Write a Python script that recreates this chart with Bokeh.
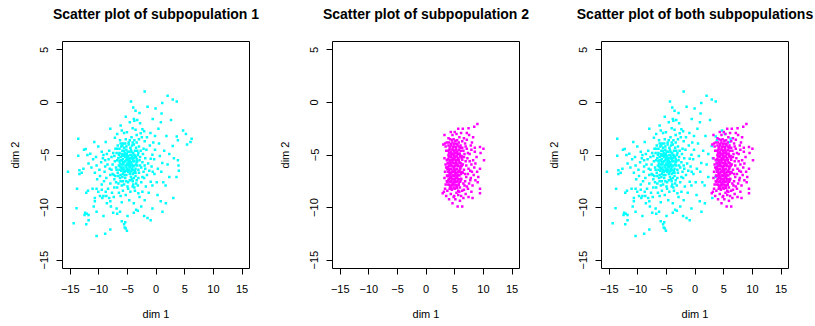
from bokeh.plotting import figure
from bokeh.layouts import row
from bokeh.models import Range1d, FixedTicker, LinearAxis
from bokeh.embed import file_html
from bokeh.resources import INLINE

# ---------------- data ----------------
titles = ["Scatter plot of subpopulation 1",
          "Scatter plot of subpopulation 2",
          "Scatter plot of both subpopulations"]
x_ticks = [-15, -10, -5, 0, 5, 10, 15]
y_ticks = [-15, -10, -5, 0, 5]

sub1_points = [
    (-2.0, 1.04), (2.0, 0.63), (2.9, 0.28), (3.6, 0.09), (-4.4, 0.09), (1.07, -0.06),
    (-4.0, -0.47), (-1.5, -0.41), (-0.1, -0.57), (0.95, -1.04), (-5.3, -1.35),
    (-3.9, -1.57), (-3.8, -1.73), (-4.6, -1.89), (-3.3, -1.67), (-0.6, -1.57),
    (-2.8, -1.98), (2.6, -1.67), (0.83, -1.89), (-6.2, -2.2), (-8.0, -2.5), (-6.0, -2.67),
    (-2.4, -2.55), (-2.1, -2.74), (-2.7, -2.92), (-4.1, -2.45), (-5.1, -2.83), (4.7, -2.67),
    (5.2, -2.99), (6.2, -3.46), (6.0, -3.77), (1.8, -3.2), (3.6, -3.24), (3.8, -3.6),
    (2.9, -4.15), (5.4, -4.0), (-13.6, -3.46), (-12.3, -4.43), (-12.6, -4.5), (-10.8, -3.77),
    (-10.1, -4.18), (-8.8, -3.77), (-7.2, -3.36), (-13.6, -5.06), (-11.5, -4.87),
    (-10.5, -5.19), (-9.5, -4.7), (-9.2, -5.0), (-8.9, -5.5), (-15.4, -6.6), (-13.4, -6.45),
    (-13.0, -6.7), (-13.4, -6.8), (-12.7, -6.3), (-11.8, -5.8), (-11.3, -6.2),
    (-10.4, -6.0), (-9.9, -6.4), (-10.7, -6.7), (-9.8, -7.0), (-13.8, -8.2), (-11.9, -8.4),
    (-12.2, -8.6), (-11.1, -8.2), (-10.4, -8.2), (-10.1, -8.5), (-9.5, -8.3), (-10.7, -9.1),
    (-10.7, -9.4), (-9.8, -8.9), (-9.4, -9.1), (-9.2, -8.9), (-8.7, -8.9), (-8.2, -9.1),
    (-8.0, -9.4), (-8.6, -9.6), (-7.4, -9.0), (-13.9, -10.06), (-12.4, -10.5), (-12.1, -10.6),
    (-12.5, -10.7), (-11.8, -10.7), (-11.8, -11.2), (-12.2, -11.6), (-14.4, -11.5),
    (-10.4, -10.4), (-9.2, -10.8), (-10.4, -12.7), (-8.9, -12.5), (-8.0, -12.1),
    (-6.9, -10.1), (-6.8, -10.6), (-7.5, -10.5), (-6.0, -11.3), (-5.4, -11.4), (-5.6, -11.6),
    (-5.3, -12.0), (-5.1, -12.2), (-5.5, -11.9), (-3.9, -9.6), (-3.2, -10.3), (-3.9, -10.5),
    (-3.5, -10.2), (-5.0, -10.8), (-2.1, -10.8), (-1.5, -11.0), (-0.95, -11.2),
    (-0.65, -10.1), (1.1, -10.4), (0.8, -9.4), (1.7, -9.6), (3.0, -9.1), (-2.0, -9.3),
    (-0.65, -4.97), (-0.95, -5.35), (-0.35, -5.4), (0.65, -5.1), (1.07, -5.75), (2.0, -5.9),
    (3.1, -5.3), (3.8, -5.5), (3.9, -6.0), (3.96, -6.5), (3.55, -7.1), (2.3, -7.1),
    (1.25, -7.6), (1.66, -7.9), (0.1, -7.6), (-0.95, -7.55), (-0.65, -7.9), (0.24, -8.8),
    (-1.8, -8.0), (-2.4, -8.5), (-3.1, -8.65),
    (-8.5, -5.9), (-8.1, -6.3), (-7.8, -5.2), (-7.6, -6.8), (-7.3, -7.3), (-7.0, -7.6),
    (-6.8, -8.1), (-6.5, -8.6), (-6.2, -8.9), (-5.8, -8.4), (-5.3, -8.8), (-4.9, -8.2),
    (-4.5, -8.5), (-4.1, -8.0), (-3.7, -8.4), (-3.2, -7.9), (-2.6, -7.6), (-2.1, -7.2),
    (-1.6, -6.9), (-1.2, -6.5), (-0.8, -6.1), (-1.4, -5.8), (-1.9, -5.3), (-2.3, -4.9),
    (-1.7, -4.5), (-1.1, -4.1), (-0.5, -3.8), (-2.0, -3.7), (-2.5, -3.3), (-3.0, -3.5),
    (-3.4, -3.1), (-3.8, -3.6), (-4.3, -3.3), (-4.8, -3.8), (-5.3, -3.5), (-5.8, -3.9),
    (-6.3, -3.6), (-6.7, -4.1), (-7.1, -4.4), (-7.5, -4.8), (-8.2, -4.6), (-8.7, -7.2),
    (-8.0, -7.7), (-9.1, -7.5), (-8.4, -8.2), (-7.7, -8.6), (-6.0, -9.5), (-4.7, -9.3),
    (-2.9, -9.0), (-1.3, -8.6), (-0.3, -6.8), (0.3, -6.3), (-0.2, -4.5), (0.5, -3.9),
    (-1.0, -2.9), (-3.6, -2.6), (-5.6, -2.9), (-6.8, -3.0), (-9.6, -5.7), (-9.0, -6.6),
    (-7.9, -9.9), (-6.3, -10.4), (-2.6, -9.9),
    (-7.2, -5.6), (-7.0, -6.2), (-6.9, -4.8), (-6.6, -7.0), (-6.4, -4.4), (-6.2, -7.5),
    (-5.9, -4.1), (-5.6, -7.8), (-5.2, -4.2), (-4.9, -7.6), (-4.5, -4.3), (-4.2, -7.3),
    (-3.9, -4.0), (-3.6, -7.0), (-3.3, -4.6), (-3.0, -6.7), (-2.8, -5.2), (-2.6, -6.2),
    (-2.4, -5.7), (-3.0, -4.2), (-2.7, -4.6), (-7.4, -6.9), (-6.0, -7.9), (-4.0, -7.8),
    (-3.4, -7.4), (-2.2, -6.6), (-7.6, -5.9), (-5.4, -3.9), (-4.1, -3.8),
    (-6.4, -5.6), (-6.3, -6.1), (-6.2, -5.2), (-6.1, -6.5), (-6.0, -5.9), (-5.9, -5.0),
    (-5.8, -6.8), (-5.8, -5.4), (-5.7, -6.2), (-5.6, -5.7), (-5.5, -4.8), (-5.5, -6.6),
    (-5.4, -5.2), (-5.3, -6.0), (-5.2, -5.5), (-5.2, -6.9), (-5.1, -4.9), (-5.0, -6.3),
    (-5.0, -5.8), (-4.9, -5.1), (-4.9, -6.6), (-4.8, -5.5), (-4.8, -6.0), (-4.7, -4.7),
    (-4.6, -6.8), (-4.6, -5.3), (-4.5, -6.2), (-4.4, -5.7), (-4.3, -5.0), (-4.3, -6.5),
    (-4.2, -5.9), (-4.1, -5.4), (-4.0, -6.1), (-4.0, -4.8), (-3.9, -6.7), (-3.8, -5.6),
    (-3.7, -5.1), (-3.6, -6.3), (-3.5, -5.9), (-3.4, -5.4), (-3.3, -6.0), (-6.5, -6.0),
    (-6.6, -5.3), (-6.2, -6.9), (-5.9, -7.1), (-5.4, -7.2), (-4.4, -7.1), (-3.9, -7.2),
    (-3.7, -4.6), (-4.4, -4.5), (-5.2, -4.5), (-5.9, -4.6), (-6.4, -4.8), (-6.8, -5.5),
    (-6.9, -6.4), (-3.2, -5.0), (-3.1, -6.4), (-5.6, -6.4), (-5.3, -5.0), (-4.7, -6.4),
    (-4.2, -5.2), (-4.9, -5.9), (-5.7, -5.9), (-6.0, -5.5), (-5.1, -6.5), (-4.5, -5.0),
    (-3.9, -5.3), (-3.6, -6.7), (-4.1, -6.8), (-5.5, -6.9), (-6.1, -6.2), (-6.3, -5.8),
    (-5.8, -5.1), (-5.0, -4.7), (-4.6, -5.8), (-4.2, -6.3), (-3.8, -6.0), (-3.4, -5.7),
    (-5.4, -5.6), (-5.1, -5.3), (-4.8, -5.7), (-4.4, -6.0), (-5.7, -6.6), (-6.0, -4.9),
    (-4.0, -5.6), (-3.5, -5.2),
    (-6.8, -4.4), (-6.5, -5.0), (-6.7, -6.7), (-6.3, -7.2), (-5.8, -7.5), (-5.2, -7.5),
    (-4.6, -7.4), (-4.1, -7.5), (-3.5, -7.7), (-3.1, -7.2), (-2.8, -6.0), (-2.9, -5.5),
    (-3.1, -4.8), (-3.5, -4.3), (-4.2, -4.1), (-4.8, -4.0), (-5.6, -4.3), (-6.1, -4.2),
    (-7.3, -5.1), (-7.8, -6.4), (-7.1, -7.0), (-6.6, -7.7), (-5.0, -8.0), (-3.8, -8.1),
    (-2.4, -7.1), (-2.0, -6.0), (-2.2, -4.4), (-3.4, -3.8), (-4.6, -3.6), (-6.2, -3.9),
    (-6.2, -5.5), (-5.9, -6.3), (-5.6, -5.0), (-5.3, -6.5), (-5.0, -5.2), (-4.7, -6.1),
    (-4.4, -5.3), (-4.1, -6.4), (-3.8, -5.0), (-3.7, -6.5), (-5.8, -5.7), (-5.2, -6.2),
    (-4.9, -5.4), (-4.5, -6.6), (-4.3, -4.7), (-5.6, -4.6), (-6.4, -6.4), (-3.3, -5.6),
    (-5.1, -5.9), (-4.6, -5.6),
    (-9.3, -5.3), (-8.6, -4.9), (-8.3, -5.4), (-8.9, -6.1), (-8.0, -6.9), (-9.5, -7.8),
    (-8.8, -8.5), (-7.3, -8.1), (-10.3, -7.3), (-11.0, -5.4), (-12.0, -5.0), (-10.9, -9.9),
    (-1.9, -6.3), (-0.6, -6.6), (0.9, -6.6), (1.4, -4.6), (2.3, -4.9), (-0.2, -3.2),
    (-1.6, -3.3), (0.4, -2.5), (-2.9, -1.0), (-3.6, -0.8),
]

sub2_points = [
    (8.95, -2.04), (8.4, -2.3), (7.4, -2.45), (6.4, -2.5), (5.6, -2.5), (5.0, -2.8),
    (7.1, -2.9), (4.3, -2.8), (4.6, -3.1), (6.1, -2.9), (8.2, -3.3), (7.5, -3.1),
    (6.6, -3.4), (7.1, -3.55), (3.2, -3.1), (3.3, -3.9), (3.0, -4.0), (9.4, -4.25),
    (10.0, -4.4), (8.5, -4.3), (7.9, -4.5), (9.5, -4.8), (8.5, -4.7), (8.8, -5.2),
    (10.1, -5.5), (9.4, -6.3), (8.9, -6.6), (9.1, -7.1), (9.0, -7.6), (9.4, -8.2),
    (9.4, -8.65), (8.1, -9.1), (7.4, -9.0), (3.1, -8.5), (2.9, -8.65), (4.0, -9.2),
    (4.6, -9.6), (5.5, -9.9), (6.3, -9.9), (5.1, -9.2), (5.9, -9.35), (6.5, -9.1),
    (7.8, -4.1), (7.6, -4.9), (8.2, -5.5), (7.9, -5.9), (8.4, -6.2), (7.7, -6.5),
    (8.3, -6.9), (7.8, -7.2), (8.6, -7.4), (7.5, -7.7), (8.1, -7.9), (7.3, -8.2),
    (7.9, -8.5), (6.9, -8.7), (7.2, -5.3), (7.0, -6.0), (7.3, -6.8), (6.8, -7.5),
    (7.1, -4.4), (6.8, -3.9), (6.5, -4.6), (6.9, -5.6), (6.6, -6.4), (6.7, -7.9),
    (6.3, -8.4), (6.1, -8.9), (5.6, -8.8), (4.9, -8.9), (4.3, -8.7), (3.7, -8.4),
    (3.4, -7.8), (3.2, -7.2), (3.3, -6.6), (3.4, -5.9), (3.2, -5.3), (3.5, -4.6),
    (3.6, -3.8), (3.9, -3.4), (5.3, -3.0), (5.8, -3.3), (6.3, -3.7), (8.0, -3.8),
    (8.6, -5.8), (6.2, -5.1), (6.4, -6.7), (6.1, -7.3), (6.0, -4.1), (3.7, -7.0),
    (3.6, -5.5), (3.8, -6.2), (3.5, -8.9), (4.1, -8.2),
    (4.2, -3.5), (4.8, -3.5), (5.4, -3.6),
    (4.0, -3.8), (4.6, -3.8), (5.1, -3.9), (5.7, -3.8),
    (3.9, -4.1), (4.4, -4.1), (4.9, -4.2), (5.5, -4.1), (6.0, -4.3),
    (4.1, -4.4), (4.6, -4.4), (5.2, -4.4), (5.7, -4.5),
    (3.8, -4.6), (4.3, -4.7), (4.9, -4.6), (5.4, -4.7), (6.1, -4.6),
    (4.0, -4.8), (4.5, -4.9), (5.0, -4.8), (5.6, -4.9),
    (3.9, -5.0), (4.3, -5.1), (4.8, -5.0), (5.3, -5.1), (5.9, -5.0),
    (4.1, -5.2), (4.6, -5.3), (5.1, -5.2), (5.6, -5.3), (6.2, -5.3),
    (3.8, -5.4), (4.4, -5.5), (4.9, -5.4), (5.4, -5.5),
    (4.1, -5.6), (4.6, -5.7), (5.2, -5.6), (5.8, -5.7),
    (3.9, -5.8), (4.4, -5.9), (5.0, -5.8), (5.5, -5.9), (6.1, -5.8),
    (4.2, -6.0), (4.7, -6.1), (5.3, -6.0), (5.9, -6.1),
    (3.8, -6.2), (4.3, -6.3), (4.9, -6.2), (5.4, -6.3), (6.0, -6.2),
    (4.0, -6.4), (4.6, -6.5), (5.1, -6.4), (5.7, -6.5),
    (3.8, -6.6), (4.3, -6.7), (4.8, -6.6), (5.3, -6.7), (5.9, -6.6),
    (4.1, -6.8), (4.6, -6.9), (5.1, -6.8), (5.6, -6.9), (6.1, -6.8),
    (3.9, -7.0), (4.4, -7.1), (4.9, -7.0), (5.4, -7.1),
    (4.2, -7.2), (4.7, -7.3), (5.2, -7.2), (5.8, -7.3),
    (3.9, -7.4), (4.4, -7.5), (5.0, -7.4), (5.5, -7.5), (6.0, -7.4),
    (4.1, -7.6), (4.6, -7.7), (5.1, -7.6), (5.7, -7.7),
    (3.8, -7.8), (4.4, -7.9), (4.9, -7.8), (5.4, -7.9),
    (4.2, -8.0), (4.8, -8.1), (5.3, -8.0), (5.9, -8.1),
    (4.5, -8.3), (5.0, -8.2), (5.6, -8.4),
    (4.5, -3.6), (5.1, -3.65),
    (4.3, -3.95), (4.85, -3.95), (5.4, -3.95),
    (4.15, -4.25), (4.7, -4.25), (5.25, -4.25), (5.8, -4.25),
    (4.05, -4.55), (4.6, -4.55), (5.15, -4.55), (5.7, -4.55),
    (4.25, -4.85), (4.75, -4.85), (5.3, -4.85), (5.85, -4.85),
    (3.95, -5.15), (4.35, -5.15), (4.85, -5.15), (5.35, -5.15), (5.9, -5.15),
    (4.15, -5.45), (4.65, -5.45), (5.15, -5.45), (5.7, -5.45), (6.3, -5.45),
    (3.75, -5.75), (4.25, -5.75), (4.8, -5.75), (5.3, -5.75), (5.95, -5.75),
    (3.95, -6.05), (4.45, -6.05), (5.0, -6.05), (5.6, -6.05), (6.2, -6.05),
    (3.7, -6.35), (4.25, -6.35), (4.8, -6.35), (5.35, -6.35), (5.95, -6.35),
    (4.05, -6.65), (4.55, -6.65), (5.05, -6.65), (5.6, -6.65), (6.3, -6.65),
    (3.65, -6.95), (4.15, -6.95), (4.7, -6.95), (5.25, -6.95), (5.8, -6.95),
    (3.95, -7.25), (4.45, -7.25), (4.95, -7.25), (5.5, -7.25), (6.1, -7.25),
    (3.7, -7.55), (4.3, -7.55), (4.8, -7.55), (5.3, -7.55), (5.95, -7.55),
    (4.05, -7.85), (4.6, -7.85), (5.15, -7.85), (5.7, -7.85),
    (4.3, -8.15), (4.85, -8.15), (5.4, -8.15),
    (6.6, -5.2), (6.8, -6.8), (7.0, -7.1), (6.5, -7.7), (7.4, -6.3), (7.6, -5.6),
    (6.7, -4.9), (6.9, -4.2), (7.3, -4.8), (6.4, -5.9), (6.6, -8.3), (7.1, -8.0),
    (8.0, -6.6), (7.7, -7.4), (6.3, -4.3), (3.5, -6.2), (3.4, -4.2), (3.6, -7.5),
    (3.3, -8.2), (4.8, -9.0), (5.3, -8.6), (5.8, -8.5),
]

x1 = [p[0] for p in sub1_points]
y1 = [p[1] for p in sub1_points]
x2 = [p[0] for p in sub2_points]
y2 = [p[1] for p in sub2_points]

CYAN = "#00FFFF"
MAGENTA = "#FF00FF"
FONT = "Liberation Sans"


def minus(v):
    return str(v).replace("-", "\u2212")


def make_fig(title, width, left, right):
    p = figure(width=width, height=322, output_backend="svg", toolbar_location=None,
               x_range=Range1d(-16.35, 16.3), y_range=Range1d(-15.8, 5.8),
               min_border_left=left, min_border_right=right,
               min_border_top=41, min_border_bottom=52)
    xax = p.below[0]
    yax = p.left[0]
    p.xgrid.visible = False
    p.ygrid.visible = False
    p.outline_line_color = "#000000"
    p.outline_line_width = 1
    p.outline_line_alpha = 1
    xax.ticker = FixedTicker(ticks=x_ticks)
    yax.ticker = FixedTicker(ticks=y_ticks)
    xax.major_label_overrides = {t: minus(t) for t in x_ticks}
    yax.major_label_overrides = {t: minus(t) for t in y_ticks}
    yax.major_label_orientation = "vertical"
    for ax in (xax, yax):
        ax.axis_line_color = None
        ax.minor_tick_line_color = None
        ax.major_tick_out = 6
        ax.major_tick_in = 0
        ax.major_tick_line_color = "#000000"
        ax.major_label_text_font = FONT
        ax.major_label_text_font_size = "11px"
        ax.major_label_text_color = "#000000"
        ax.axis_label_text_font = FONT
        ax.axis_label_text_font_size = "11px"
        ax.axis_label_text_font_style = "normal"
        ax.axis_label_text_color = "#000000"
    xax.axis_label = "dim 1"
    yax.axis_label = "dim 2"
    xax.major_label_standoff = 10
    xax.axis_label_standoff = 12
    yax.major_label_standoff = 8
    yax.axis_label_standoff = 17
    # title drawn as the label of a tick-less axis above the frame
    tax = LinearAxis(ticker=FixedTicker(ticks=[]), axis_label=title,
                     axis_line_color=None, major_tick_line_color=None,
                     minor_tick_line_color=None, major_tick_out=0, major_tick_in=0,
                     major_label_standoff=0, axis_label_standoff=20,
                     axis_label_text_font=FONT, axis_label_text_font_size="14px",
                     axis_label_text_font_style="bold", axis_label_text_color="#000000")
    p.add_layout(tax, "above")
    return p


MS = 2.5
p1 = make_fig(titles[0], 270, 62, 21)
p1.scatter(x1, y1, marker="square", size=MS, fill_color=CYAN, line_color=None)

p2 = make_fig(titles[1], 270, 62, 21)
p2.scatter(x2, y2, marker="square", size=MS, fill_color=MAGENTA, line_color=None)

p3 = make_fig(titles[2], 274, 61, 26)
p3.scatter(x1, y1, marker="square", size=MS, fill_color=CYAN, line_color=None)
p3.scatter(x2, y2, marker="square", size=MS, fill_color=MAGENTA, line_color=None)

layout = row(p1, p2, p3, spacing=0)
open("out.html", "w").write(file_html(layout, INLINE))
